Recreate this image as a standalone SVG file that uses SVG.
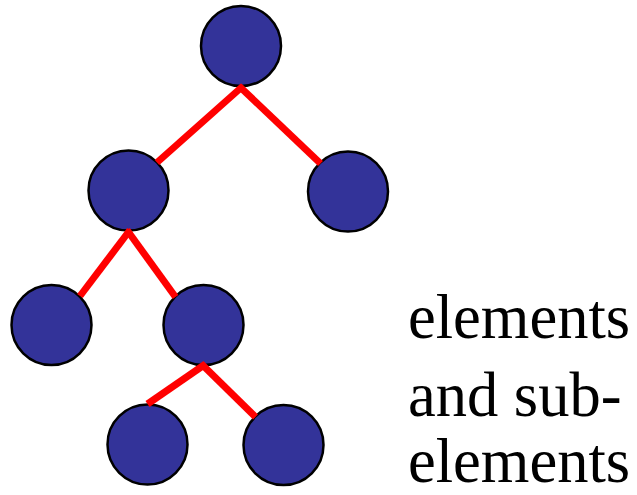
<svg xmlns="http://www.w3.org/2000/svg" width="637" height="495" viewBox="0 0 637 495">
  <style>
    .node { fill: #333399; stroke: #000000; stroke-width: 2.5; }
    .edge { stroke: #ff0000; stroke-width: 7; stroke-linecap: butt; fill: none; }
    .label { font-family: "Liberation Serif", "Times New Roman", serif; font-size: 62.5px; fill: #000000; }
  </style>

  <rect width="637" height="495" fill="#ffffff"/>

  <!-- tree nodes -->
  <g id="root"><circle class="node" cx="241" cy="46" r="40"/></g>
  <g id="a"><circle class="node" cx="128.5" cy="190.5" r="40"/></g>
  <g id="b"><circle class="node" cx="348" cy="191.5" r="40"/></g>
  <g id="a1"><circle class="node" cx="51.5" cy="325" r="40"/></g>
  <g id="a2"><circle class="node" cx="203.5" cy="325" r="40"/></g>
  <g id="a2x"><circle class="node" cx="147.5" cy="444.5" r="40"/></g>
  <g id="a2y"><circle class="node" cx="283.5" cy="445" r="40"/></g>

  <!-- connectors -->
  <g id="edges">
    <line class="edge" x1="243" y1="86" x2="157" y2="162.5"/>
    <line class="edge" x1="239" y1="86" x2="320.5" y2="163.5"/>
    <line class="edge" x1="130" y1="230" x2="80" y2="296"/>
    <line class="edge" x1="127" y1="230" x2="175.5" y2="297"/>
    <line class="edge" x1="205.5" y1="364" x2="147.5" y2="404"/>
    <line class="edge" x1="201.5" y1="364" x2="255.5" y2="417"/>
  </g>

  <!-- caption -->
  <g id="caption">
    <text class="label" x="408" y="338">elements</text>
    <text class="label" x="408" y="416">and sub-</text>
    <text class="label" x="408" y="482">elements</text>
  </g>
</svg>
